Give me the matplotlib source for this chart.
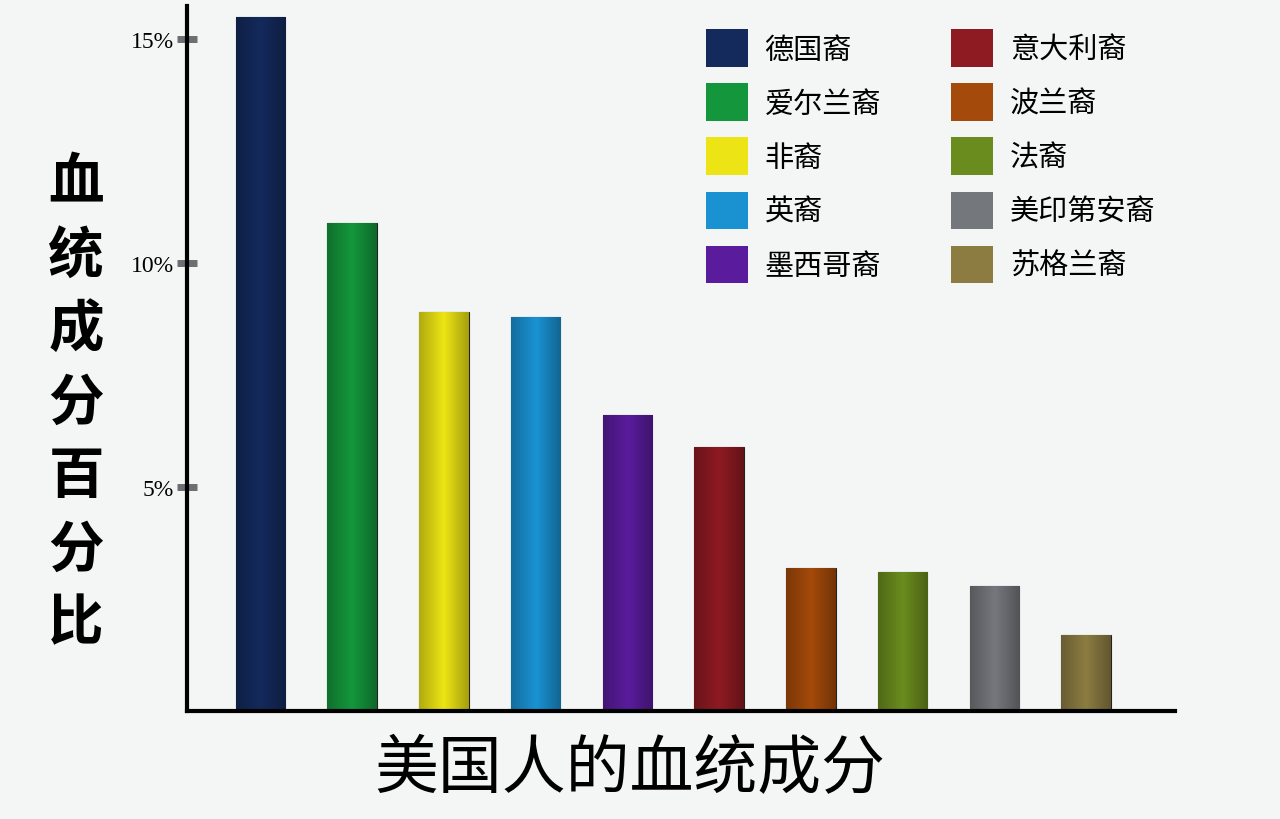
import numpy as np
import matplotlib.pyplot as plt
from matplotlib.patches import Patch

plt.rcParams['font.family'] = ['Noto Sans CJK SC', 'DejaVu Sans']

groups = ["德国裔", "爱尔兰裔", "非裔", "英裔", "墨西哥裔",
          "意大利裔", "波兰裔", "法裔", "美印第安裔", "苏格兰裔"]
shares = [15.5, 10.9, 8.9, 8.8, 6.6, 5.9, 3.2, 3.1, 2.8, 1.7]
colors = ["#142a5c", "#14963c", "#ece414", "#1a92d2", "#5a1c9c",
          "#8e1a22", "#a44a0a", "#6a8c1e", "#74777c", "#8c7c42"]
yticks = [5, 10, 15]
yticklabels = ["5%", "10%", "15%"]

fig = plt.figure(figsize=(12.8, 8.2), dpi=100, facecolor="#f4f5f5")
ax = fig.add_axes([187 / 1280, 1 - 712 / 820, 988 / 1280, 705 / 820])
ax.set_facecolor("#f4f5f5")

x = np.arange(len(groups))
bars = ax.bar(x, shares, width=0.54, color=colors, edgecolor="#222222", linewidth=0.8, zorder=2)

# soft cylinder shading on each bar
shade = np.concatenate([np.linspace(0.75, 1.0, 30), np.linspace(1.0, 0.7, 30)])
for b, c in zip(bars, colors):
    rgb = np.array(plt.matplotlib.colors.to_rgb(c))
    img = np.clip(shade[None, :, None] * rgb[None, None, :], 0, 1)
    x0, w, h = b.get_x(), b.get_width(), b.get_height()
    im = ax.imshow(img, extent=[x0, x0 + w, 0, h], aspect="auto", zorder=2.5)
    im.set_clip_path(b)

ax.set_xlim(-0.8, 9.97)
ax.set_ylim(0, 15.74)

for s in ["top", "right"]:
    ax.spines[s].set_visible(False)
ax.spines["left"].set_linewidth(3)
ax.spines["bottom"].set_linewidth(3)
ax.spines["left"].set_zorder(4)
ax.spines["bottom"].set_zorder(4)

ax.set_xticks([])
ax.set_yticks(yticks)
ax.set_yticklabels(yticklabels, family=["Liberation Serif", "DejaVu Serif"], fontsize=17)
ax.tick_params(axis="y", direction="inout", length=15, width=5, color="#6e6e72", pad=2)

# legend in two columns
handles = [Patch(facecolor=c, edgecolor="none") for c in colors]
ax.legend(handles, groups, ncol=2, loc="upper left", bbox_to_anchor=(0.525, 0.967),
          frameon=False, fontsize=21, handlelength=1.44, handleheight=1.6,
          handletextpad=0.58, labelspacing=0.57, columnspacing=2.4, borderpad=0,
          borderaxespad=0)

# vertical y label, one character per line
ylab = "血统成分百分比"
for i, ch in enumerate(ylab):
    fig.text(76 / 1280, 1 - (183 + i * 73.5) / 820, ch, fontsize=40, fontweight="bold",
             ha="center", va="center")

fig.text(630 / 1280, 1 - 770 / 820, "美国人的血统成分", fontsize=46, fontweight="medium",
         ha="center", va="center")

fig.savefig("out.png", dpi=100, facecolor=fig.get_facecolor())
